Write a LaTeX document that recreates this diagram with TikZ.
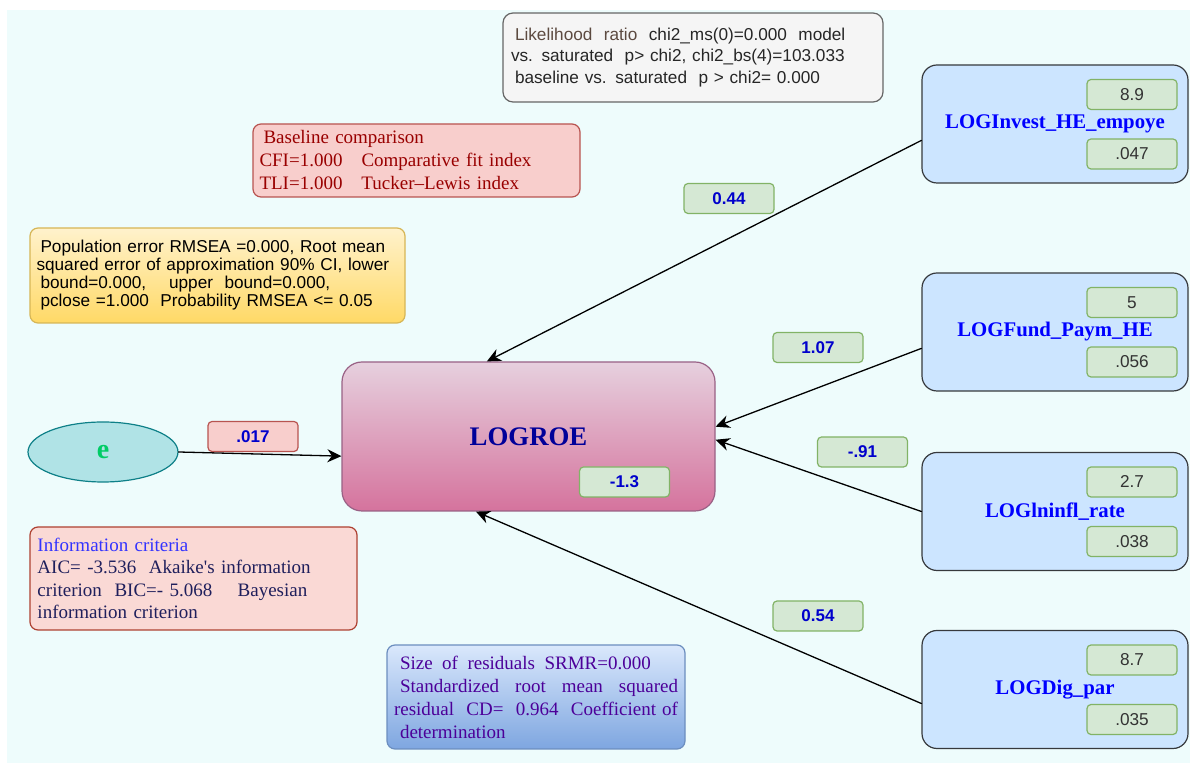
\documentclass[tikz,border=0pt]{standalone}
\usepackage{fontspec}
\setmainfont{Liberation Serif}
\setsansfont{Liberation Sans}
\usetikzlibrary{arrows.meta,shapes.geometric}
\definecolor{bgcyan}{HTML}{EEFCFC}
\definecolor{varfill}{HTML}{CCE5FF}
\definecolor{varline}{HTML}{36393D}
\definecolor{varblue}{HTML}{0000FF}
\definecolor{valfill}{HTML}{D5E8D4}
\definecolor{valline}{HTML}{82B366}
\definecolor{coefblue}{HTML}{0000CC}
\definecolor{redfill}{HTML}{F8CECC}
\definecolor{redline}{HTML}{B85450}
\definecolor{redtext}{HTML}{990000}
\definecolor{infofill}{HTML}{FAD9D5}
\definecolor{infoline}{HTML}{AE4132}
\definecolor{infonavy}{HTML}{1F1F5C}
\definecolor{infoblue}{HTML}{3333FF}
\definecolor{lrfill}{HTML}{F5F5F5}
\definecolor{lrline}{HTML}{666666}
\definecolor{lrbrown}{HTML}{5C4A40}
\definecolor{yeltop}{HTML}{FFF2CC}
\definecolor{yelbot}{HTML}{FFD966}
\definecolor{yelline}{HTML}{D6B656}
\definecolor{roetop}{HTML}{E6D0DE}
\definecolor{roebot}{HTML}{D5739D}
\definecolor{roeline}{HTML}{996185}
\definecolor{roetext}{HTML}{000099}
\definecolor{restop}{HTML}{DAE8FC}
\definecolor{resbot}{HTML}{7EA6E0}
\definecolor{resline}{HTML}{6C8EBF}
\definecolor{restext}{HTML}{4C0099}
\definecolor{efill}{HTML}{B0E3E6}
\definecolor{eline}{HTML}{0E8088}
\definecolor{etext}{HTML}{00CC66}
\begin{document}
\begin{tikzpicture}[x=0.5pt,y=-0.5pt,line join=round,line cap=round,>={Stealth[length=7pt,width=6.5pt]}]
\tikzset{
  varbox/.style={draw=varline,fill=varfill,line width=0.6pt,rounded corners=7.5pt,minimum width=133pt,minimum height=59pt,inner sep=0pt,text=varblue,font=\bfseries\fontsize{10.4}{12}\selectfont},
  valbox/.style={draw=valline,fill=valfill,line width=0.6pt,rounded corners=2pt,minimum width=45pt,minimum height=15pt,inner sep=0pt,text=black!80,font=\sffamily\fontsize{8.6}{10}\selectfont},
  coefbox/.style={valbox,text=coefblue,font=\sffamily\bfseries\fontsize{8.5}{10}\selectfont},
  notebox/.style={line width=0.6pt,rounded corners=4pt,align=left,inner xsep=3pt,inner ysep=0pt},
  arr/.style={->,line width=0.65pt,black}
}
\fill[white] (0,0) rectangle (1190,763);
\fill[bgcyan] (7,10) rectangle (1190,763);
\node[notebox,draw=lrline,fill=lrfill,rounded corners=5pt,minimum width=190pt,minimum height=44.5pt,text width=182pt,text=black!85,font=\sffamily\fontsize{8.6}{10.6}\selectfont] (lr) at (693,57.5)
  {\hspace*{2pt}\textcolor{lrbrown}{Likelihood~ ratio}~ chi2\_ms(0)=0.000~ model\\
   vs. saturated~ p> chi2, chi2\_bs(4)=103.033\\
   \hspace*{2pt}baseline vs. saturated~ p > chi2= 0.000};
\node[notebox,draw=redline,fill=redfill,minimum width=163.5pt,minimum height=36.5pt,text width=157pt,text=redtext,font=\fontsize{9.5}{11.5}\selectfont] (base) at (416.5,160.5)
  {\hspace*{2pt}Baseline comparison\\
   CFI=1.000~~~Comparative fit index\\
   TLI=1.000~~~Tucker--Lewis index};
\node[notebox,draw=yelline,top color=yeltop,bottom color=yelbot,minimum width=187.5pt,minimum height=47.5pt,text width=183pt,inner xsep=2pt,text=black,font=\sffamily\fontsize{8.6}{9}\selectfont] (rmsea) at (217.5,275.5)
  {\hspace*{3pt}Population error RMSEA =0.000, Root mean\\
   \hspace*{1pt}squared error of approximation 90\% CI, lower\\
   \hspace*{3pt}bound=0.000,~~~~upper~ bound=0.000,\\
   \hspace*{3pt}pclose =1.000~ Probability RMSEA <= 0.05};
\node[draw=roeline,top color=roetop,bottom color=roebot,line width=0.6pt,rounded corners=10pt,minimum width=186.5pt,minimum height=74.5pt,text=roetext,font=\bfseries\fontsize{13.4}{15}\selectfont] (roe) at (528.5,436.5) {LOGROE};
\node[ellipse,draw=eline,fill=efill,line width=0.6pt,minimum width=75pt,minimum height=30pt,inner sep=0pt,text=etext,font=\bfseries\fontsize{14}{16}\selectfont] (e) at (103,452) {e};
\node[notebox,draw=infoline,fill=infofill,minimum width=163.5pt,minimum height=51.5pt,text width=156pt,text=infonavy,font=\fontsize{9.5}{11.3}\selectfont] (info) at (193.5,578.5)
  {\textcolor{infoblue}{Information criteria}\\
   AIC= -3.536~ Akaike\textquotesingle s information\\
   criterion~ BIC=- 5.068~~~ Bayesian\\
   information criterion};
\node[notebox,align=justify,draw=resline,top color=restop,bottom color=resbot,minimum width=149pt,minimum height=52pt,text width=142pt,text=restext,font=\fontsize{9.5}{11.5}\selectfont] (res) at (536,697)
  {\hspace*{3pt}Size~~of~~residuals~~SRMR=0.000\\
   \hspace*{3pt}Standardized root mean squared\linebreak
   residual~ CD=~ 0.964~ Coefficient of\linebreak
   \hspace*{3pt}determination};
\foreach \nm/\y/\lab/\top/\bot in {inv/124/LOGInvest\_HE\_empoye/8.9/.047,fund/332/LOGFund\_Paym\_HE/5/.056,infl/511.5/LOGlninfl\_rate/2.7/.038,dig/689.5/LOGDig\_par/8.7/.035}{
  \node[varbox] (\nm) at (1055,\y) {\lab};
  \node[valbox] (\nm-a) at (1132,\y-29.5) {\top};
  \node[valbox] (\nm-b) at (1132,\y+30) {\bot};
}
\draw[arr] (inv.187) -- (roe.119);
\draw[arr] (fund.187) -- (roe.3);
\draw[arr] (infl.180) -- (roe.-1);
\draw[arr] (dig.186) -- (roe.235);
\draw[arr] (e.east) -- (roe.186);
\node[coefbox] (c-inv) at (729,198.5) {0.44};
\node[coefbox] (c-fund) at (818,347.5) {1.07};
\node[coefbox] (c-infl) at (862.5,452) {-.91};
\node[coefbox] (c-dig) at (818,616) {0.54};
\node[coefbox] (c-roe) at (624.5,482) {-1.3};
\node[coefbox,draw=redline,fill=redfill] (c-e) at (253,436.5) {.017};
\end{tikzpicture}
\end{document}
